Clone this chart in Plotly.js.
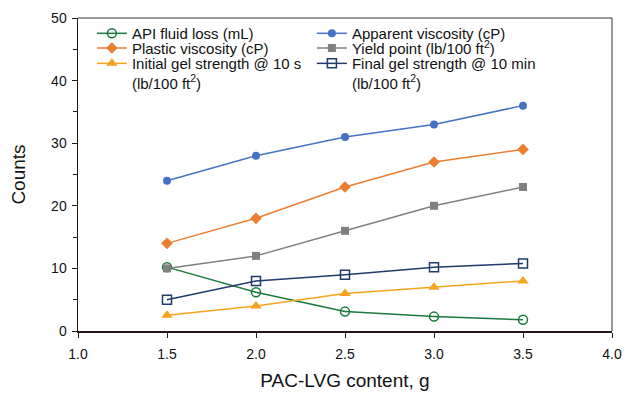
<!DOCTYPE html>
<html><head><meta charset="utf-8">
<script src="https://cdn.plot.ly/plotly-3.0.1.min.js"></script>
<style>body{margin:0;background:#fff}#c{width:628px;height:400px}</style>
</head><body><div id="c"></div>
<script>
const content = [1.5, 2.0, 2.5, 3.0, 3.5];
const apiFluidLoss = [10.2, 6.2, 3.1, 2.3, 1.8];
const apparentViscosity = [24, 28, 31, 33, 36];
const plasticViscosity = [14, 18, 23, 27, 29];
const yieldPoint = [10, 12, 16, 20, 23];
const initialGel = [2.5, 4, 6, 7, 8];
const finalGel = [5, 8, 9, 10.2, 10.8];
const seriesNames = [
  'API fluid loss (mL)',
  'Apparent viscosity (cP)',
  'Plastic viscosity (cP)',
  'Yield point (lb/100 ft<sup>2</sup>)',
  'Initial gel strength @ 10 s<br>(lb/100 ft<sup>2</sup>)',
  'Final gel strength @ 10 min<br>(lb/100 ft<sup>2</sup>)'
];

const lw = 1.5;
const traces = [
  {x: content, y: apiFluidLoss, name: seriesNames[0], legend: 'legend',
   line: {color: '#1a7a3e', width: lw}, marker: {symbol: 'circle-open', size: 9, color: '#1a7a3e', line: {width: 1.5}}},
  {x: content, y: apparentViscosity, name: seriesNames[1], legend: 'legend2',
   line: {color: '#4472c4', width: lw}, marker: {symbol: 'circle', size: 8, color: '#4472c4'}},
  {x: content, y: plasticViscosity, name: seriesNames[2], legend: 'legend3',
   line: {color: '#ed7d31', width: lw}, marker: {symbol: 'diamond', size: 9, color: '#ed7d31'}},
  {x: content, y: yieldPoint, name: seriesNames[3], legend: 'legend4',
   line: {color: '#808080', width: lw}, marker: {symbol: 'square', size: 8, color: '#808080'}},
  {x: content, y: initialGel, name: seriesNames[4], legend: 'legend5',
   line: {color: '#f5a31c', width: lw}, marker: {symbol: 'triangle-up', size: 10, color: '#f5a31c'}},
  {x: content, y: finalGel, name: seriesNames[5], legend: 'legend6',
   line: {color: '#1f3a6b', width: lw}, marker: {symbol: 'square-open', size: 9, color: '#1f3a6b', line: {width: 1.5}}}
].map(t => Object.assign({type: 'scatter', mode: 'lines+markers'}, t));

const font = {family: 'Liberation Sans, Arial, sans-serif', color: '#111', size: 14};
function leg(x, y) {
  return {x: x, y: y, xanchor: 'left', yanchor: 'top', bgcolor: 'rgba(0,0,0,0)',
    font: {size: 15}, tracegroupgap: 0, itemwidth: 30, valign: 'top'};
}
const c1 = 0.026, c2 = 0.438;
const layout = {
  width: 628, height: 400,
  margin: {l: 78, r: 16, t: 18, b: 69},
  paper_bgcolor: '#fff', plot_bgcolor: '#fff',
  font: font,
  showlegend: true,
  xaxis: {range: [1, 4], dtick: 0.5, tickformat: '.1f', showgrid: false, zeroline: false,
    ticks: 'outside', ticklen: 5, tickcolor: '#231815', linecolor: '#231815', linewidth: 1.5, showline: true,
    ticklabelstandoff: 5,
    title: {text: 'PAC-LVG content, g', font: {size: 19}, standoff: 12}, tickfont: {size: 14}},
  yaxis: {range: [0, 50], dtick: 10, showgrid: false, zeroline: false,
    ticks: 'outside', ticklen: 5, tickcolor: '#231815', linecolor: '#231815', linewidth: 1.5, showline: true,
    minor: {dtick: 5, ticks: 'outside', ticklen: 4, tickcolor: '#231815'},
    ticklabelstandoff: 2,
    title: {text: 'Counts', font: {size: 19}, standoff: 20}, tickfont: {size: 14}},
  shapes: [
    {type: 'line', xref: 'paper', yref: 'paper', x0: 0, x1: 1, y0: 1, y1: 1, line: {color: '#333', width: 1}},
    {type: 'line', xref: 'paper', yref: 'paper', x0: 1, x1: 1, y0: 0, y1: 1, line: {color: '#333', width: 1}}
  ],
  legend: leg(c1, 1.003),
  legend2: leg(c2, 1.003),
  legend3: leg(c1, 0.956),
  legend4: leg(c2, 0.956),
  legend5: leg(c1, 0.907),
  legend6: leg(c2, 0.907)
};
Plotly.newPlot('c', traces, layout, {displayModeBar: false, staticPlot: true});
</script></body></html>
